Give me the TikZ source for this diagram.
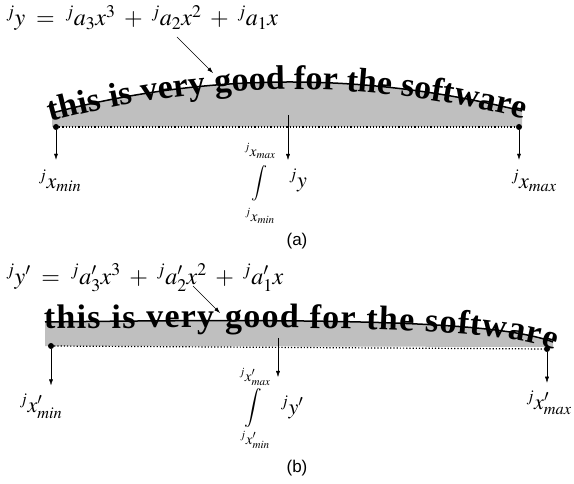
\documentclass[tikz,border=0pt]{standalone}
\usepackage{mathptmx}
\usepackage{fontspec}
\usetikzlibrary{arrows.meta, decorations.text}
\newfontfamily\capfont{Liberation Sans}
\newfontfamily\bookfont{Liberation Serif}
\DeclareSymbolFont{lmlarge}{OMX}{cmex}{m}{n}
\DeclareMathSymbol{\bigint}{\mathop}{lmlarge}{"5A}
\tikzset{arr/.style={-{Latex[length=6pt, width=4pt]}}}

\begin{document}
\begin{tikzpicture}[x=1pt, y=-1pt,
      every node/.style={inner sep=0pt},
      eqn/.style={anchor=west, font=\fontsize{24}{28}\selectfont},
      lbl/.style={font=\fontsize{22}{26}\selectfont},
      lim/.style={font=\fontsize{15}{18}\selectfont},
      intsign/.style={font=\fontsize{10}{12}\selectfont, scale=1.6},
      caption/.style={font=\capfont\fontsize{17}{20}\selectfont},
      pin/.style={circle, fill, minimum size=6pt},
      band/.style={fill=black!25},
      strike/.style={draw, line width=1.5pt},
      base/.style={draw, dotted, line width=1.2pt},
      curved/.style={decoration={text along path,
          text={|\bookfont\bfseries\fontsize{34}{38}\selectfont|this is very good for the software},
          text align={fit to path}, raise=-7pt}, decorate},
  ]
      \useasboundingbox (0,0) rectangle (574,484);

      % (a): fitted cubic over the curved line
      \node[eqn] (eqa) at (6,18) {${}^{j}y \;=\; {}^{j}a_3x^3 \;+\; {}^{j}a_2x^2 \;+\; {}^{j}a_1x$};
      \fill[band] (52,113) .. controls (209,72) and (365,72) .. (522,111) -- (522,127) -- (52,127) -- cycle;
      \path[curved] (49,115) .. controls (209,72) and (365,72) .. (525,112);
      \draw[strike] (52,113) .. controls (209,72) and (365,72) .. (522,111);
      \node[pin] (pinla) at (56,127) {};
      \node[pin] (pinra) at (519,127) {};
      \draw[base] (pinla) -- (pinra);

      % (a): limits and area
      \node[lbl] (xmina) at (60,181) {${}^{j}x_{min}$};
      \node[lbl] (xmaxa) at (534,181) {${}^{j}x_{max}$};
      \node[lim] (upa) at (260,151) {${}^{j}x_{max}$};
      \node[intsign] (inta) at (259,183) {$\bigint$};
      \node[lim] (lowa) at (260,216) {${}^{j}x_{min}$};
      \node[lbl] (ya) at (298,180) {${}^{j}y$};
      \node[caption] (capa) at (297,241) {(a)};

      \coordinate (fromeqa) at (177,37);
      \coordinate (toeqa) at (213,73);
      \coordinate (mida) at (288,115);
      \draw[arr] (fromeqa) -- (toeqa);
      \draw[arr, shorten >=10pt] (pinla) -- (pinla |- xmina.north);
      \draw[arr, shorten >=10pt] (pinra) -- (pinra |- xmaxa.north);
      \draw[arr] (mida) -- (288,160);

      % (b): fitted cubic over the straightened line
      \node[eqn] (eqb) at (6,278) {${}^{j}y' \;=\; {}^{j}a'_3x^3 \;+\; {}^{j}a'_2x^2 \;+\; {}^{j}a'_1x$};
      \fill[band] (45,322) .. controls (350,318) and (500,322) .. (553,342) -- (553,347) -- (45,346) -- cycle;
      \path[curved] (44,322) .. controls (350,318) and (500,322) .. (556,343);
      \draw[strike] (45,322) .. controls (350,318) and (500,322) .. (553,342);
      \node[pin] (pinlb) at (51,346) {};
      \node[pin] (pinrb) at (547,349) {};
      \draw[base] (pinlb) -- (pinrb);

      % (b): limits and area
      \node[lbl] (xminb) at (41,406) {${}^{j}x'_{min}$};
      \node[lbl] (xmaxb) at (549,403) {${}^{j}x'_{max}$};
      \node[lim] (upb) at (255,377) {${}^{j}x'_{max}$};
      \node[intsign, scale=1.1] (intb) at (253,408) {$\bigint$};
      \node[lim] (lowb) at (255,440) {${}^{j}x'_{min}$};
      \node[lbl] (yb) at (292,407) {${}^{j}y'$};
      \node[caption] (capb) at (297,468) {(b)};

      \coordinate (fromeqb) at (193,286);
      \coordinate (toeqb) at (220,313);
      \coordinate (midb) at (278,338);
      \draw[arr] (fromeqb) -- (toeqb);
      \draw[arr, shorten >=8pt] (pinlb) -- (pinlb |- xminb.north);
      \draw[arr, shorten >=8pt] (pinrb) -- (pinrb |- xmaxb.north);
      \draw[arr] (midb) -- (278,377);
\end{tikzpicture}
\end{document}
